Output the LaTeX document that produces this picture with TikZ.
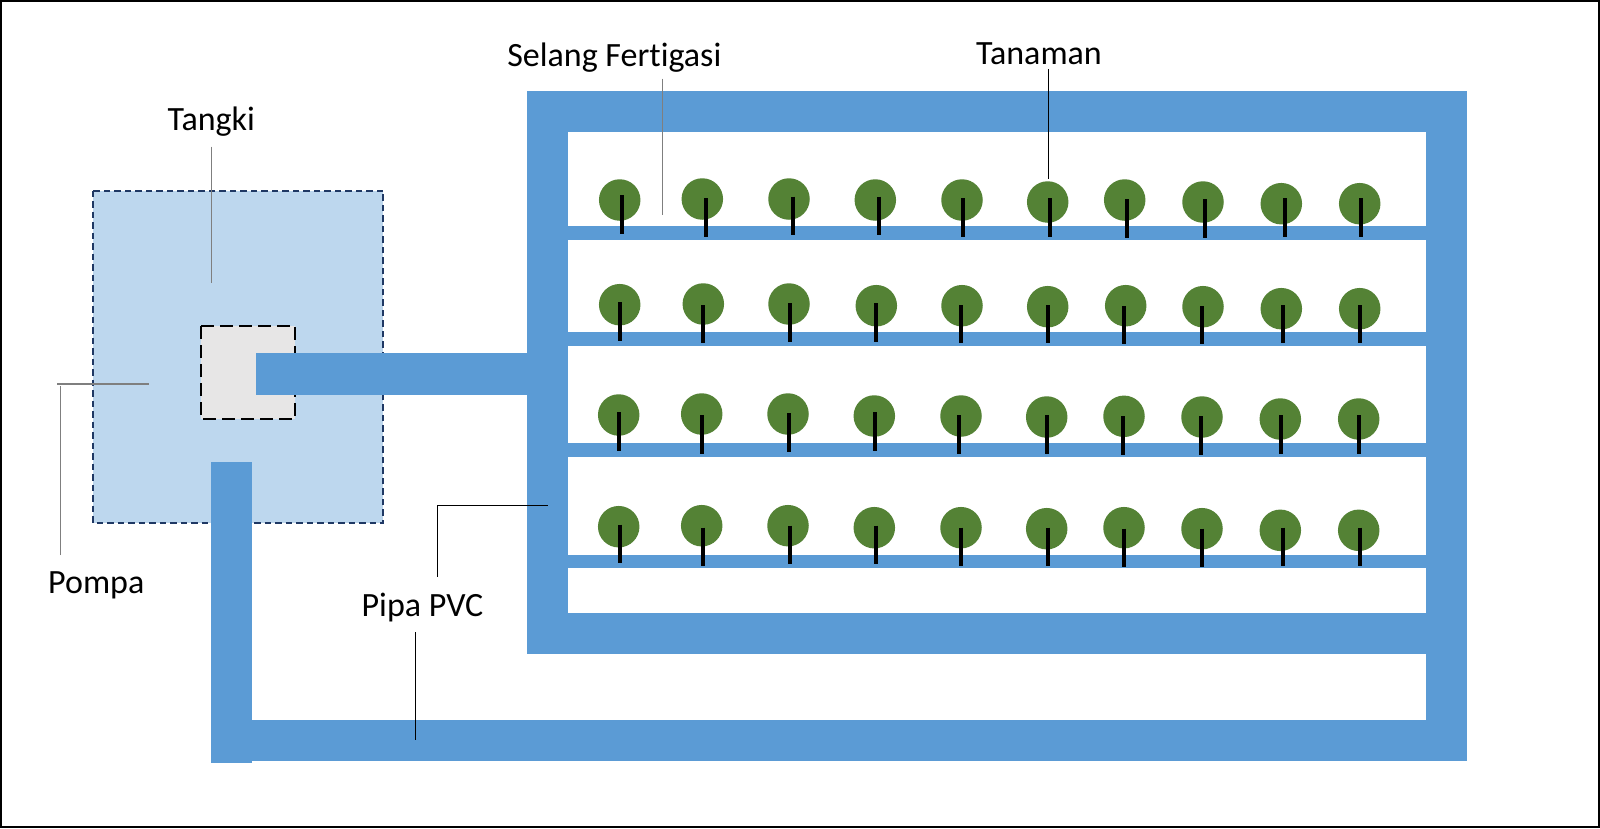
\documentclass[tikz,border=0pt]{standalone}
\usepackage{fontspec}
\setmainfont[Ligatures=CommonOff]{Carlito}
\definecolor{pipeblue}{HTML}{5B9BD5}
\definecolor{tanklight}{HTML}{BDD7EE}
\definecolor{tankedge}{HTML}{1F3864}
\definecolor{pumpgrey}{HTML}{E7E6E6}
\definecolor{leafgreen}{HTML}{548235}
\definecolor{leadgrey}{HTML}{7F7F7F}
\tikzset{
    pipe/.style={fill=pipeblue},
    label text/.style={anchor=base, font=\fontsize{34}{38}\selectfont, inner sep=0pt},
    leader/.style={draw=black, line width=1.2pt},
    leader grey/.style={draw=leadgrey, line width=1.2pt},
    crown/.style={circle, fill=leafgreen, minimum size=41.5pt, inner sep=0pt},
    stem/.style={draw=black, line width=4.3pt}
}
\begin{document}
\begin{tikzpicture}[x=1pt, y=-1pt]
            \useasboundingbox (0,0) rectangle (1600,828);
            \fill[white] (0,0) rectangle (1600,828);
            \draw[black, line width=2pt] (1,1) rectangle (1599,827);

            \draw[fill=tanklight, draw=tankedge, line width=1.8pt, dash pattern=on 6.5pt off 4pt] (93.3,190.7) rectangle (383.3,523.3);
            \draw[fill=pumpgrey, draw=black, line width=1.7pt, dash pattern=on 13pt off 6pt] (201.3,326) rectangle (295,419);

            \fill[pipe] (256,353.3) rectangle (527,394.7);
            \fill[pipe] (211,462) rectangle (252,762.7);
            \fill[pipe] (252,720.3) rectangle (1467.3,761.3);

            \fill[pipe] (526.7,91) rectangle (1467.3,132.3);
            \fill[pipe] (526.7,91) rectangle (567.7,653.7);
            \fill[pipe] (526.7,612.7) rectangle (1467.3,653.7);
            \fill[pipe] (1426,91) rectangle (1467.3,761.3);

            \foreach \top/\bot in {226/240, 332/346, 443.3/457, 554.7/568.3}
                \fill[pipe] (567.7,\top) rectangle (1426,\bot);

            \foreach \id/\cx/\cy/\sx/\sy in {
                a1/619.7/200/622.3/195.3, a2/702.3/199/706/198.3, a3/789/199/792.7/196.7, a4/875.3/200/879/196.7, a5/962/200/963/198.3,
                a6/1047.7/202/1050.3/198.3, a7/1124.7/200/1126.7/199.3, a8/1203/202/1205/199.3, a9/1281.3/203.7/1285/198.3, a10/1359.7/203.7/1361.3/198.3,
                b1/619.7/304.7/619.7/302.3, b2/703.3/304/703.3/305, b3/789/304/790/303.3, b4/876.3/305.7/876.3/303.3, b5/962/305.7/961/305,
                b6/1047.7/306.7/1047.7/305, b7/1125.7/305.7/1124/306, b8/1203/306.7/1202/306, b9/1281.3/308.7/1283/305, b10/1359.7/308.7/1359.7/305,
                c1/618.7/415/618.7/412.3, c2/701.7/414/702.3/415.3, c3/788/414/789/413.3, c4/874.3/416/875.3/412.3, c5/961/416/959/415.3,
                c6/1046.7/417/1046.7/415.3, c7/1124/416.3/1123/416.3, c8/1202/417/1201.3/416.3, c9/1280.3/419/1281.3/415.3, c10/1358.7/419/1358.7/415.3,
                d1/618.7/526.7/619.7/524.7, d2/701.7/525.7/703.3/527.7, d3/788/525.7/790/525.7, d4/874.3/527.7/876.3/525.7, d5/961/527.7/961/527.7,
                d6/1046.7/528.7/1047.7/527.7, d7/1124/527.7/1124/528.7, d8/1202/528.7/1202/528.7, d9/1280.3/530.3/1283/527.7, d10/1358.7/530.3/1359.7/527.7
            } {
                \node[crown] (tree\id) at (\cx,\cy) {};
                \draw[stem] (\sx,\sy) -- ++(0,38.3);
            }

            \node[label text] (lblTangki) at (211.3,130.3) {Tangki};
            \node[label text] (lblSelang) at (614.3,66) {Selang Fertigasi};
            \node[label text] (lblTanaman) at (1039,64.8) {Tanaman};
            \node[label text] (lblPompa) at (96.3,593.7) {Pompa};
            \node[label text] (lblPipa) at (422.5,616) {Pipa PVC};

            \coordinate (tangkiFrom) at (211.3,146.7);
            \coordinate (tangkiTo) at (211.3,283.3);
            \coordinate (selangFrom) at (662.7,78.7);
            \coordinate (selangTo) at (662.7,215);
            \coordinate (tanamanFrom) at (1048.3,69.3);
            \coordinate (tanamanTo) at (1048.3,179);
            \coordinate (pompaFrom) at (60.3,555);
            \coordinate (pompaBend) at (60.3,386);
            \coordinate (pompaStart) at (57.3,384);
            \coordinate (pompaTo) at (149.3,384);
            \coordinate (pipaFrom) at (437.3,576.7);
            \coordinate (pipaBend) at (437.3,505.3);
            \coordinate (pipaTo) at (548,505.3);
            \coordinate (pipaLowFrom) at (415.3,632.3);
            \coordinate (pipaLowTo) at (415.3,740);

            \draw[leader grey] (tangkiFrom) -- (tangkiTo);
            \draw[leader grey] (selangFrom) -- (selangTo);
            \draw[leader] (tanamanFrom) -- (tanamanTo);
            \draw[leader grey] (pompaFrom) -- (pompaBend);
            \draw[leader grey] (pompaStart) -- (pompaTo);
            \draw[leader] (pipaFrom) -- (pipaBend) -- (pipaTo);
            \draw[leader] (pipaLowFrom) -- (pipaLowTo);
      \end{tikzpicture}
\end{document}
